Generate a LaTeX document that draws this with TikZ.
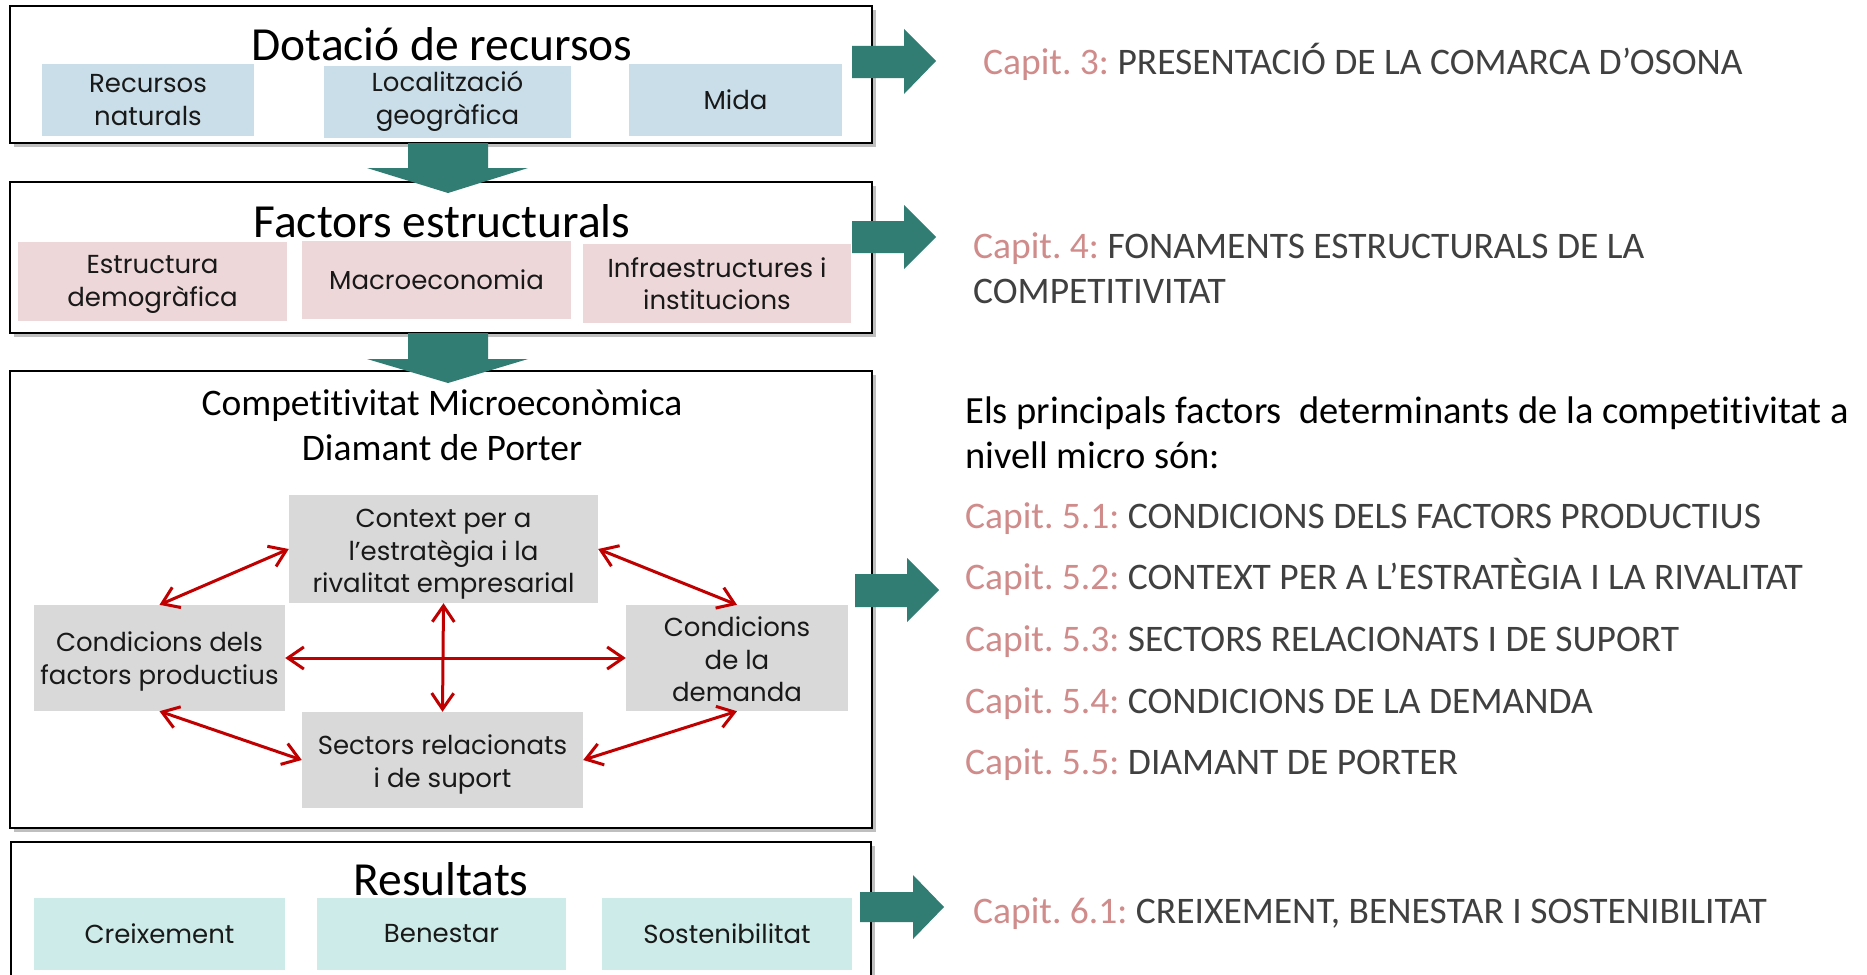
\documentclass[tikz,border=0pt]{standalone}
\usepackage{fontspec}
\setmainfont[Ligatures=NoCommon]{Carlito}
\newfontfamily\boxfont{Poppins}
\usetikzlibrary{arrows.meta,shadows}
\definecolor{tealA}{HTML}{317D73}
\definecolor{blueB}{HTML}{C9DEE8}
\definecolor{pinkB}{HTML}{EED7D8}
\definecolor{grayB}{HTML}{D9D9D9}
\definecolor{tealB}{HTML}{CDEBE8}
\definecolor{redA}{HTML}{C00000}
\definecolor{capcol}{HTML}{D08B8B}
\definecolor{txtgray}{HTML}{404040}
\newcommand{\lowlines}[2]{\raisebox{-#1}[\height][\depth]{\begin{tabular}{@{}c@{}}#2\end{tabular}}}
\begin{document}
\frenchspacing
\begin{tikzpicture}[x=1pt,y=-1pt,
  frame/.style={draw=black, line width=2pt, fill=white, inner sep=0pt,
    drop shadow={shadow xshift=4pt, shadow yshift=-4pt, fill=black!45, opacity=0.55}},
  inbox/.style={inner sep=0pt, align=center, text=black!90,
    font=\boxfont\fontsize{26}{32.5}\selectfont},
  bluebox/.style={inbox, fill=blueB},
  pinkbox/.style={inbox, fill=pinkB},
  graybox/.style={inbox, fill=grayB},
  tealbox/.style={inbox, fill=tealB},
  title/.style={inner sep=0pt, anchor=base, font=\fontsize{47.5}{56}\selectfont},
  subtitle/.style={inner sep=0pt, anchor=base, font=\fontsize{37.5}{45}\selectfont},
  side/.style={inner sep=0pt, anchor=base west, text=txtgray, font=\fontsize{37.5}{45}\selectfont},
  intro/.style={side, text=black, font=\fontsize{38.5}{45}\selectfont},
  blockarrow/.style={fill=tealA, draw=none},
  redarr/.style={draw=redA, line width=3pt,
    {Straight Barb[length=16pt,width=22pt]}-{Straight Barb[length=16pt,width=22pt]}}
]
\clip (0,0) rectangle (1867,974);
\fill[white] (0,0) rectangle (1867,974);

% frames
\node[frame, minimum width=862pt, minimum height=137pt] (f1) at (441,74.5) {};
\node[frame, minimum width=862pt, minimum height=151pt] (f2) at (441,257.5) {};
\node[frame, minimum width=862pt, minimum height=457pt] (f3) at (441,599.5) {};
\node[frame, minimum width=860pt, minimum height=158pt] (f4) at (441,921) {};

% titles
\node[title] (t1) at (442,60) {Dotació de recursos};
\node[title] (t2) at (442,237) {Factors estructurals};
\node[subtitle] (t3a) at (442,415) {Competitivitat Microeconòmica};
\node[subtitle] (t3b) at (442,460) {Diamant de Porter};
\node[title] (t4) at (441,895) {Resultats};

% row 1
\node[bluebox, minimum width=212pt, minimum height=72pt] (b1) at (148,100) {Recursos\\naturals};
\node[bluebox, minimum width=247pt, minimum height=72pt] (b2) at (447.5,101.5) {Localització\\geogràfica};
\node[bluebox, minimum width=213pt, minimum height=72pt] (b3) at (735.5,100) {Mida};

% row 2
\node[pinkbox, minimum width=269pt, minimum height=79pt] (p1) at (152.5,281.5) {\lowlines{2pt}{Estructura\\demogràfica}};
\node[pinkbox, minimum width=269pt, minimum height=78pt] (p2) at (436.5,280) {Macroeconomia};
\node[pinkbox, minimum width=268pt, minimum height=79pt] (p3) at (717,283.5) {Infraestructures i\\institucions};

% diamond
\node[graybox, minimum width=309pt, minimum height=108pt] (ctx) at (443.5,549) {\lowlines{4.5pt}{Context per a\\l’estratègia i la\\rivalitat empresarial}};
\node[graybox, minimum width=251pt, minimum height=106pt] (cf) at (159.5,658) {\lowlines{3.5pt}{Condicions dels\\factors productius}};
\node[graybox, minimum width=222pt, minimum height=106pt] (cd) at (737,658) {\lowlines{4.5pt}{Condicions\\de la\\demanda}};
\node[graybox, minimum width=281pt, minimum height=96pt] (sec) at (442.5,760) {\lowlines{4.5pt}{Sectors relacionats\\i de suport}};

\draw[redarr] (ctx.west) -- (cf.north);
\draw[redarr] (ctx.east) -- (cd.north);
\draw[redarr] (cf.east) -- (cd.west);
\draw[redarr] (ctx.south) -- (sec.north);
\draw[redarr] (cf.south) -- (sec.west);
\draw[redarr] (cd.south) -- (sec.east);

% row 4
\node[tealbox, minimum width=251pt, minimum height=72pt] (r1) at (159.5,934) {Creixement};
\node[tealbox, minimum width=249pt, minimum height=72pt] (r2) at (441.5,934) {Benestar};
\node[tealbox, minimum width=250pt, minimum height=72pt] (r3) at (727,934) {Sostenibilitat};

% down block arrows
\fill[blockarrow] (408,143) -- (488,143) -- (488,168) -- (528,168) -- (448,193) -- (367,168) -- (408,168) -- cycle;
\fill[blockarrow] (408,333) -- (488,333) -- (488,359) -- (528,359) -- (448,383) -- (367,359) -- (408,359) -- cycle;

% right block arrows
\fill[blockarrow] (852,46) -- (904,46) -- (904,29) -- (936,61) -- (904,94) -- (904,78) -- (852,78) -- cycle;
\fill[blockarrow] (852,221) -- (904,221) -- (904,205) -- (936,237) -- (904,269) -- (904,253) -- (852,253) -- cycle;
\fill[blockarrow] (855,574) -- (907,574) -- (907,558) -- (939,590) -- (907,622) -- (907,607) -- (855,607) -- cycle;
\fill[blockarrow] (860,892) -- (913,892) -- (913,875) -- (944,907) -- (913,939) -- (913,922) -- (860,922) -- cycle;

% side texts
\node[side] (s3) at (983,74.5) {\textcolor{capcol}{Capit. 3:} PRESENTACIÓ DE LA COMARCA D’OSONA};
\node[side] (s4a) at (973,258.5) {\textcolor{capcol}{Capit. 4:} FONAMENTS ESTRUCTURALS DE LA};
\node[side] (s4b) at (973,303.5) {COMPETITIVITAT};
\node[intro] (s5a) at (965,423) {Els principals factors~ determinants de la competitivitat a};
\node[intro] (s5b) at (965,468) {nivell micro són:};
\node[side] (s51) at (965,528) {\textcolor{capcol}{Capit. 5.1:} CONDICIONS DELS FACTORS PRODUCTIUS};
\node[side] (s52) at (965,589) {\textcolor{capcol}{Capit. 5.2:} CONTEXT PER A L’ESTRATÈGIA I LA RIVALITAT};
\node[side] (s53) at (965,651) {\textcolor{capcol}{Capit. 5.3:} SECTORS RELACIONATS I DE SUPORT};
\node[side] (s54) at (965,713) {\textcolor{capcol}{Capit. 5.4:} CONDICIONS DE LA DEMANDA};
\node[side] (s55) at (965,774) {\textcolor{capcol}{Capit. 5.5:} DIAMANT DE PORTER};
\node[side] (s61) at (973,923) {\textcolor{capcol}{Capit. 6.1:} CREIXEMENT, BENESTAR I SOSTENIBILITAT};
\end{tikzpicture}
\end{document}
